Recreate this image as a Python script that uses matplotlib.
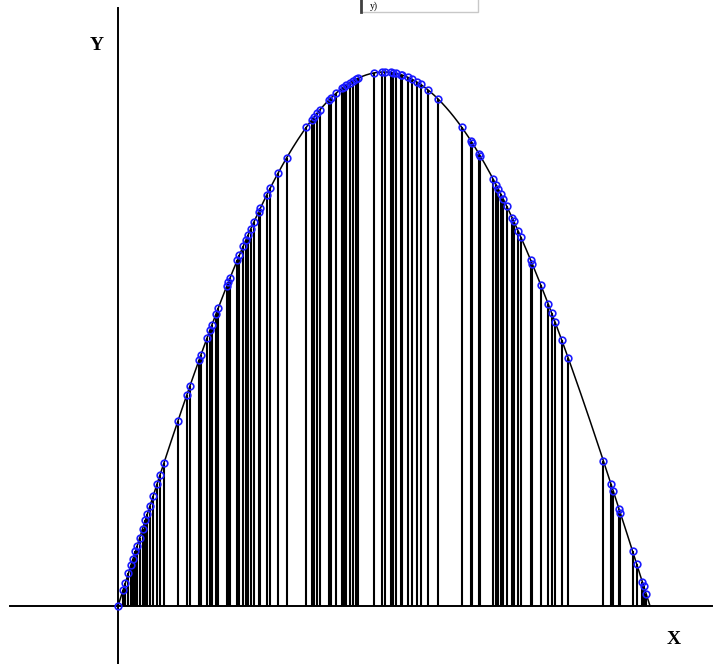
import numpy as np
import matplotlib
matplotlib.use("Agg")
import matplotlib.pyplot as plt
from matplotlib.patches import Rectangle

# x positions (radians) of the sampled vertical lines under y = sin(x)
sample_x = [
    0.000, 0.030, 0.044, 0.062, 0.077, 0.089, 0.103, 0.112, 0.127, 0.145,
    0.162, 0.174, 0.189, 0.207, 0.230, 0.248, 0.272, 0.354, 0.407, 0.425,
    0.478, 0.490, 0.526, 0.543, 0.555, 0.579, 0.593, 0.642, 0.651, 0.661,
    0.704, 0.716, 0.740, 0.754, 0.769, 0.784, 0.803, 0.831, 0.840, 0.878,
    0.898, 0.947, 0.996, 1.113, 1.143, 1.157, 1.175, 1.193, 1.248, 1.256,
    1.287, 1.325, 1.336, 1.348, 1.370, 1.389, 1.405, 1.419, 1.512, 1.557,
    1.577, 1.610, 1.626, 1.642, 1.669, 1.679, 1.714, 1.734, 1.763, 1.787,
    1.832, 1.891, 2.030, 2.083, 2.092, 2.132, 2.139, 2.216, 2.232, 2.246,
    2.260, 2.275, 2.295, 2.328, 2.337, 2.364, 2.380, 2.437, 2.447, 2.496,
    2.541, 2.561, 2.581, 2.620, 2.659, 2.866, 2.911, 2.925, 2.959, 2.966,
    3.039, 3.063, 3.096, 3.104, 3.120,
]
curve_start, curve_end = 0.0, np.pi
axis_label_x = "X"
axis_label_y = "Y"
legend_text = "y)"

fig = plt.figure(figsize=(7.2, 6.64), dpi=100)
ax = fig.add_axes([0, 0, 1, 1])
ax.set_xlim(-0.6968, 3.5549)
ax.set_ylim(-0.1086, 1.1348)
ax.axis("off")

# axes lines
ax.plot([-0.6378, 3.5076], [0, 0], color="black", lw=1.4, zorder=1)
ax.plot([0, 0], [-0.1086, 1.1199], color="black", lw=1.4, zorder=1)

# curve
xc = np.linspace(curve_start, curve_end, 400)
ax.plot(xc, np.sin(xc), color="black", lw=1.1, zorder=2)

# vertical sample lines and markers
sx = np.array(sample_x)
sy = np.sin(sx)
ax.vlines(sx, 0, sy, color="black", lw=1.5, zorder=3)
ax.plot(sx, sy, linestyle="none", marker="o", markersize=4.8,
        markerfacecolor="none", markeredgecolor="#1a1aff", markeredgewidth=1.2,
        zorder=4)

# axis labels
fig.text(97 / 720, 1 - 45 / 664, axis_label_y, ha="center", va="center",
         family="Liberation Serif", weight="bold", fontsize=14)
fig.text(674 / 720, 1 - 639 / 664, axis_label_x, ha="center", va="center",
         family="Liberation Serif", weight="bold", fontsize=14)

# partially visible legend box at top
fig.patches.append(Rectangle((361 / 720, 1 - 12 / 664), 117 / 720, 20 / 664,
                             transform=fig.transFigure, facecolor="white",
                             edgecolor="#c8c8c8", lw=1.0))
fig.lines.append(plt.Line2D([361 / 720, 361 / 720], [1 - 12 / 664, 1],
                            transform=fig.transFigure, color="#404040", lw=2))
fig.text(370 / 720, 1 - 1.5 / 664, legend_text, ha="left", va="top",
         family="Liberation Serif", fontsize=7)

fig.savefig("out.png", dpi=100)
